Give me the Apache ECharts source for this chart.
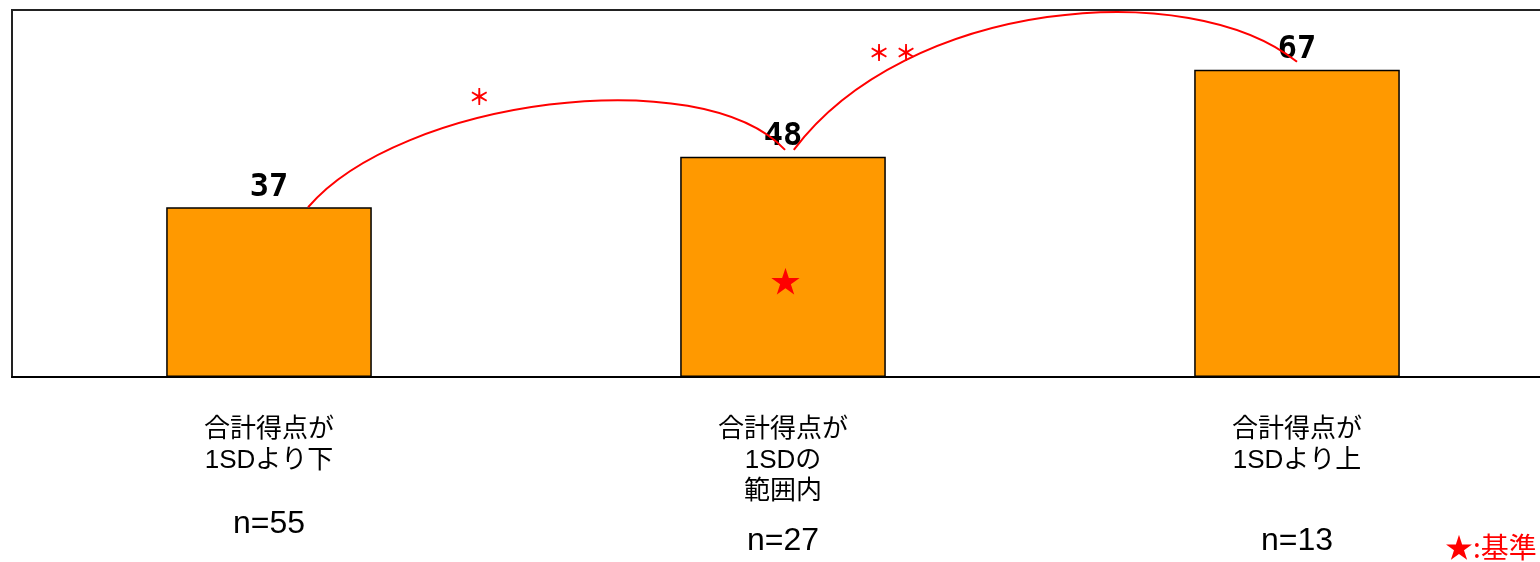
<!DOCTYPE html>
<html>
<head>
<meta charset="utf-8">
<style>
html,body{margin:0;padding:0;background:#fff;}
#main{width:1540px;height:562px;}
</style>
<script src="https://cdn.jsdelivr.net/npm/echarts@6/dist/echarts.min.js"></script>
</head>
<body>
<div id="main"></div>
<script>
// ---- data ----
const categories = ['合計得点が\n1SDより下', '合計得点が\n1SDの\n範囲内', '合計得点が\n1SDより上'];
const values = [37, 48, 67];
const nCounts = [55, 27, 13];
const referenceIndex = 1;
const sigMarks = ['＊', '＊ ＊'];
const noteText = '★:基準';
const yMin = 0;
const yMax = 80;

// ---- chart ----
const chart = echarts.init(document.getElementById('main'), null, {renderer: 'canvas'});
const jpFont = '"Liberation Sans", Arial, "Noto Sans CJK JP", sans-serif';
const nGap = [64, 50, 81];

const rich = {
  c: {fontFamily: jpFont, fontSize: 26, lineHeight: 31, color: '#000'}
};
nCounts.forEach(function (n, i) {
  rich['n' + i] = {fontFamily: jpFont, fontSize: 32, lineHeight: nGap[i], color: '#000', verticalAlign: 'bottom'};
});

chart.setOption({
  animation: false,
  backgroundColor: '#fff',
  grid: {
    left: 12, top: 10, width: 1542, bottom: 185,
    outerBoundsMode: 'none',
    containLabel: false,
    show: true, borderColor: '#222', borderWidth: 2, backgroundColor: 'transparent'
  },
  xAxis: {
    type: 'category',
    data: categories,
    axisLine: {show: true, lineStyle: {color: '#000', width: 2}},
    axisTick: {show: false},
    axisLabel: {
      interval: 0,
      margin: 37,
      hideOverlap: false,
      formatter: function (val, idx) {
        const lines = val.split('\n').map(function (l) { return '{c|' + l + '}'; });
        lines.push('{n' + idx + '|n=' + nCounts[idx] + '}');
        return lines.join('\n');
      },
      rich: rich
    }
  },
  yAxis: {
    type: 'value', min: yMin, max: yMax,
    show: false,
    splitLine: {show: false}
  },
  series: [{
    type: 'bar',
    data: values,
    barWidth: '40%',
    itemStyle: {color: '#FF9900', borderColor: '#000', borderWidth: 1.5},
    label: {
      show: true, position: 'top', distance: 4,
      fontFamily: '"DejaVu Sans Mono", monospace', fontWeight: 'bold',
      fontSize: 32, color: '#000'
    }
  }]
});

function P(i, frac, v) {
  const a = chart.convertToPixel({xAxisIndex: 0, yAxisIndex: 0}, [0, v]);
  const b = chart.convertToPixel({xAxisIndex: 0, yAxisIndex: 0}, [1, v]);
  const band = b[0] - a[0];
  return [a[0] + (i + frac) * band, a[1]];
}

// arc geometry, relative to the bars it links
const a1 = [P(0, 0.076, values[0]), P(0, 0.255, 60.4), P(0, 0.839, 69.1), P(1, 0.004, values[1] + 1.5)];
const a2 = [P(1, 0.021, values[1] + 1.5), P(1, 0.24, 82.2), P(1, 0.79, 87.6), P(2, 0.0, values[2] + 1.7)];
function curve(p) {
  return {
    type: 'bezierCurve', silent: true, z: 10,
    shape: {x1: p[0][0], y1: p[0][1], cpx1: p[1][0], cpy1: p[1][1], cpx2: p[2][0], cpy2: p[2][1], x2: p[3][0], y2: p[3][1]},
    style: {stroke: '#FF0000', lineWidth: 2, fill: null}
  };
}
const m1 = P(0, 0.409, 61.2);
const m2 = P(1, 0.213, 70.8);
const star = P(referenceIndex, 0.005, 21.1);

chart.setOption({
  graphic: [
    curve(a1),
    curve(a2),
    {type: 'text', x: m1[0], y: m1[1], z: 11, style: {text: sigMarks[0], fill: '#FF0000', font: 'bold 22px "Noto Sans CJK JP"', align: 'center', verticalAlign: 'middle'}},
    {type: 'text', x: m2[0], y: m2[1], z: 11, style: {text: sigMarks[1], fill: '#FF0000', font: 'bold 22px "Noto Sans CJK JP"', align: 'center', verticalAlign: 'middle'}},
    {type: 'text', x: star[0], y: star[1], z: 11, style: {text: '★', fill: '#FF0000', font: '30px "Noto Sans CJK JP"', align: 'center', verticalAlign: 'middle'}},
    {type: 'text', left: 1445, top: 533, z: 11, style: {text: noteText, fill: '#FF0000', font: '28px "Noto Sans CJK JP"'}}
  ]
});
</script>
</body>
</html>
